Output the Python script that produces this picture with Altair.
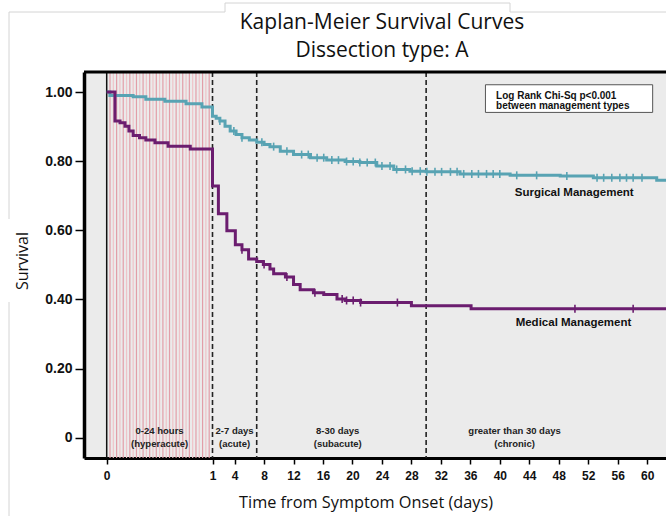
import altair as alt
import pandas as pd

# ---- Kaplan-Meier estimates (step-after: day, survival) ----
surg_days = [0, 0.03, 0.25, 0.37, 0.55, 0.75, 0.9, 1.0, 1.5, 2.0, 2.7, 3.4, 4.2, 5.0, 6.0, 7.0,
             8.0, 8.8, 10.2, 12.0, 14.3, 16.5, 19.0, 21.0, 23.3, 25.6, 27.8, 30.0, 34.6, 41.4,
             48.2, 52.7, 61.3, 62.56]
surg_surv = [1.0, 0.99, 0.986, 0.979, 0.973, 0.966, 0.957, 0.93, 0.924, 0.916, 0.901, 0.887,
             0.877, 0.868, 0.861, 0.855, 0.848, 0.842, 0.829, 0.819, 0.81, 0.803, 0.799, 0.796,
             0.786, 0.776, 0.771, 0.769, 0.763, 0.759, 0.757, 0.752, 0.745, 0.745]

med_days = [0, 0.078, 0.126, 0.173, 0.21, 0.25, 0.31, 0.37, 0.456, 0.58, 0.79, 1.0, 1.8, 2.95,
            4.1, 5.0, 5.9, 7.0, 7.9, 8.8, 9.3, 10.9, 12.0, 12.9, 14.7, 16.1, 17.9, 19.0, 21.1,
            28.0, 36.1, 62.56]
med_surv = [1.0, 0.916, 0.911, 0.901, 0.887, 0.874, 0.868, 0.861, 0.853, 0.843, 0.835, 0.728,
            0.648, 0.599, 0.558, 0.544, 0.517, 0.51, 0.501, 0.488, 0.474, 0.465, 0.443, 0.428,
            0.419, 0.414, 0.401, 0.397, 0.391, 0.382, 0.373, 0.373]

# censored observations (days)
surg_censor = [2.0, 3.9, 5.0, 7.7, 9.3, 11.1, 13.1, 14.0, 15.2, 16.1, 17.2, 18.1, 19.2, 20.1,
               21.0, 22.0, 23.1, 24.0, 25.1, 26.0, 27.2, 28.1, 29.2, 30.1, 31.2, 32.1, 33.3,
               34.2, 35.1, 36.2, 37.1, 38.2, 39.1, 40.0, 42.3, 45.0, 49.1, 53.2, 54.1, 55.2,
               56.3, 57.2, 58.1, 59.3]
med_censor = [5.0, 8.0, 11.1, 14.9, 18.6, 19.2, 20.1, 21.1, 26.1, 50.2, 58.1]

# phase boundaries and labels
phase_bounds = [1, 7, 30]
phase_line1 = ["0-24 hours", "2-7 days", "8-30 days", "greater than 30 days"]
phase_line2 = ["(hyperacute)", "(acute)", "(subacute)", "(chronic)"]
phase_center = [0.5, 4.0, 18.0, 42.0]

x_ticks = [0, 1, 4, 8, 12, 16, 20, 24, 28, 32, 36, 40, 44, 48, 52, 56, 60]
y_ticks = [0, 0.2, 0.4, 0.6, 0.8, 1.0]

TEAL = "#58a3b3"
PURPLE = "#6b1d6f"
W, H = 582, 386
ARIAL = "Liberation Sans, Arial"
SOFT = "Open Sans"


def surv_at(days, surv, d):
    val = surv[0]
    for dd, s in zip(days, surv):
        if dd <= d:
            val = s
    return val


surg = pd.DataFrame({"day": surg_days, "surv": surg_surv})
med = pd.DataFrame({"day": med_days, "surv": med_surv})
surg_c = pd.DataFrame({"day": surg_censor,
                       "surv": [surv_at(surg_days, surg_surv, d) for d in surg_censor]})
med_c = pd.DataFrame({"day": med_censor,
                      "surv": [surv_at(med_days, med_surv, d) for d in med_censor]})

# first day is stretched: 0-1 day gets its own wide segment
xs = alt.Scale(domain=[-0.5, 0, 1, 62.56], range=[0, 22.7, 128.5, W], nice=False, zero=False)
ys = alt.Scale(domain=[-0.0587, 1.0579], nice=False, zero=False)

X = lambda f="day": alt.X(f"{f}:Q", scale=xs)
Y = lambda f="surv": alt.Y(f"{f}:Q", scale=ys)

# hyperacute hatch stripes, alternating tones
stripes = [k / 32 for k in range(1, 32)]
hatch_a = alt.Chart(pd.DataFrame({"day": stripes[0::2]})).mark_rule(
    strokeWidth=1.2, color="#e29ea8").encode(x=X())
hatch_b = alt.Chart(pd.DataFrame({"day": stripes[1::2]})).mark_rule(
    strokeWidth=1.2, color="#efc3c8").encode(x=X())

zero_rule = alt.Chart(pd.DataFrame({"day": [0]})).mark_rule(
    color="#111", strokeWidth=1.5).encode(x=X())
dash_rules = alt.Chart(pd.DataFrame({"day": phase_bounds})).mark_rule(
    color="#222", strokeWidth=1.6, strokeDash=[5, 3]).encode(x=X())

x_axis = alt.Axis(values=x_ticks, tickCount=40, title=None, grid=False, labelFont=ARIAL,
                  labelFontSize=12, labelFontWeight="bold", labelColor="#111",
                  domainColor="#000", domainWidth=3, tickColor="#000", tickWidth=1.5,
                  tickSize=6, labelPadding=6, labelFlush=False, labelOverlap=False)
y_axis = alt.Axis(values=y_ticks, tickCount=10, title=None, grid=False, labelFont=ARIAL,
                  labelFontSize=14, labelFontWeight="bold", labelColor="#111",
                  domainColor="#000", domainWidth=3.5, tickColor="#000", tickWidth=1.5,
                  tickSize=9, labelPadding=3, labelOverlap=False,
                  labelExpr="datum.value == 0 ? '0' : format(datum.value, '.2f')")

surg_line = alt.Chart(surg).mark_line(interpolate="step-after", strokeWidth=3, color=TEAL).encode(
    x=alt.X("day:Q", scale=xs, axis=x_axis),
    y=alt.Y("surv:Q", scale=ys, axis=y_axis),
)
med_line = alt.Chart(med).mark_line(interpolate="step-after", strokeWidth=3, color=PURPLE).encode(
    x=X(), y=Y())
surg_ticks = alt.Chart(surg_c).mark_tick(orient="vertical", size=8, thickness=1.6,
                                         color=TEAL, opacity=1).encode(x=X(), y=Y())
med_ticks = alt.Chart(med_c).mark_tick(orient="vertical", size=8, thickness=1.6,
                                       color=PURPLE, opacity=1).encode(x=X(), y=Y())

phase_df = pd.DataFrame({"day": phase_center * 2,
                         "txt": phase_line1 + phase_line2,
                         "yv": [0.019] * 4 + [-0.017] * 4})
phase_text = alt.Chart(phase_df).mark_text(
    font=ARIAL, fontSize=9.5, fontWeight="bold", color="#222", baseline="middle").encode(
    x=X(), y=Y("yv"), text="txt:N")

names = pd.DataFrame({"day": [50.1, 50.0], "yv": [0.707, 0.333],
                      "txt": ["Surgical Management", "Medical Management"]})
name_text = alt.Chart(names).mark_text(
    font=ARIAL, fontSize=11.5, fontWeight="bold", color="#111", baseline="middle").encode(
    x=X(), y=Y("yv"), text="txt:N")

box = alt.Chart(pd.DataFrame({"x1": [38.05], "x2": [60.75], "y1": [0.941], "y2": [1.021]})).mark_rect(
    fill="white", stroke="#555", strokeWidth=1).encode(
    x=X("x1"), x2="x2:Q", y=Y("y1"), y2="y2:Q")
box_text = alt.Chart(pd.DataFrame({"day": [39.5, 39.5], "yv": [0.980, 0.950],
                                   "txt": ["Log Rank Chi-Sq p<0.001",
                                           "between management types"]})).mark_text(
    font=ARIAL, fontSize=10, fontWeight="bold", color="#111", align="left",
    baseline="alphabetic").encode(x=X(), y=Y("yv"), text="txt:N")

top_border = alt.Chart(pd.DataFrame({"k": [0]})).mark_rule(color="#000", strokeWidth=3).encode(
    x=alt.value(0), x2=alt.value(W), y=alt.value(0))

# light figure frame around the panel
frame = pd.DataFrame({
    "x1": [-75, -75, -75, 141, 141, 426, 426],
    "x2": [-75, -75, 141, 141, 426, 426, 590],
    "y1": [-60, 230, -60, -60, -69, -69, -60],
    "y2": [147, 450, -60, -69, -69, -60, -60],
})
frame_layer = alt.Chart(frame).mark_rule(color="#d4d4d4", strokeWidth=1).encode(
    x=alt.X("x1:Q", scale=None), x2="x2:Q", y=alt.Y("y1:Q", scale=None), y2="y2:Q")

titles = pd.DataFrame({"px": [298, 298], "py": [-43.5, -15.3],
                       "txt": ["Kaplan-Meier Survival Curves", "Dissection type: A"]})
title_layer = alt.Chart(titles).mark_text(font=SOFT, fontSize=21, color="#111",
                                          baseline="alphabetic").encode(
    x=alt.X("px:Q", scale=None), y=alt.Y("py:Q", scale=None), text="txt:N")

xtitle = alt.Chart(pd.DataFrame({"px": [282], "py": [436],
                                 "txt": ["Time from Symptom Onset (days)"]})).mark_text(
    font=SOFT, fontSize=16.3, color="#111", baseline="alphabetic").encode(
    x=alt.X("px:Q", scale=None), y=alt.Y("py:Q", scale=None), text="txt:N")
ytitle = alt.Chart(pd.DataFrame({"px": [-61], "py": [189], "txt": ["Survival"]})).mark_text(
    font=SOFT, fontSize=16, color="#111", angle=270, baseline="middle").encode(
    x=alt.X("px:Q", scale=None), y=alt.Y("py:Q", scale=None), text="txt:N")

chart = alt.layer(
    hatch_a, hatch_b, zero_rule, dash_rules, surg_line, med_line, surg_ticks, med_ticks,
    phase_text, name_text, box, box_text, top_border, frame_layer, title_layer, xtitle, ytitle,
).properties(
    width=W, height=H,
    padding={"left": 84, "top": 72, "right": 0, "bottom": 58},
    autosize=alt.AutoSizeParams(type="none"),
    background="white",
).configure_view(fill="#ebebeb", stroke="transparent")

chart.save("out.html", embed_options={"renderer": "svg", "actions": False})
